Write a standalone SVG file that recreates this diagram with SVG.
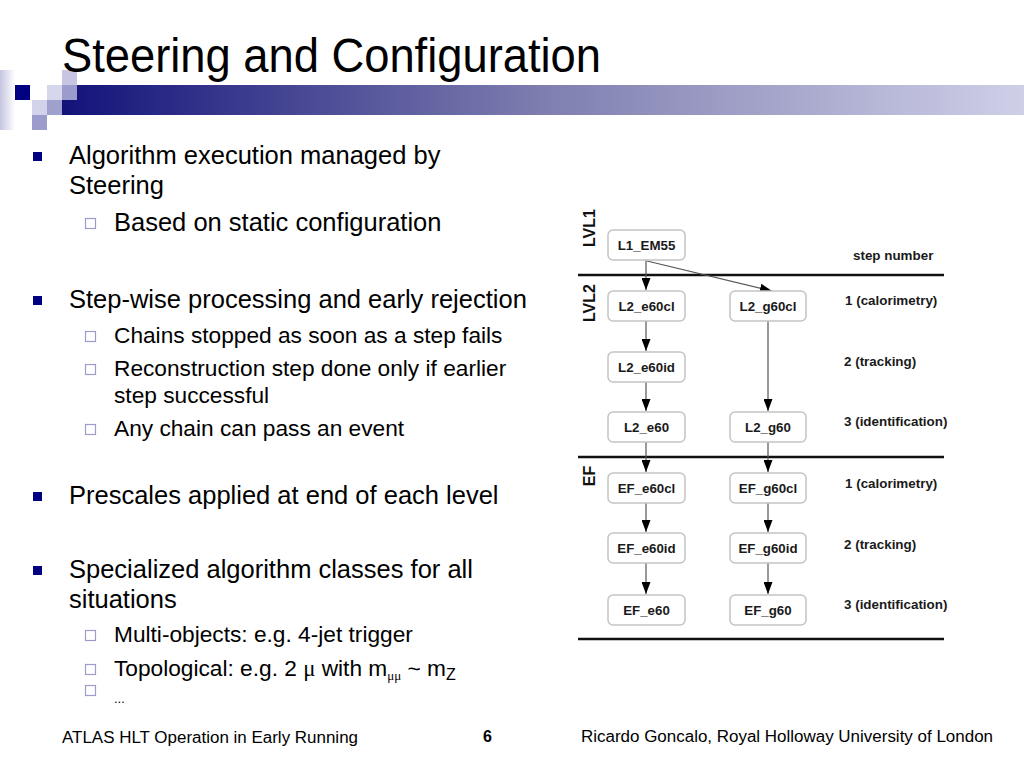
<svg xmlns="http://www.w3.org/2000/svg" width="1024" height="768" viewBox="0 0 1024 768">
<defs>
<linearGradient id="bar" x1="0" y1="0" x2="1" y2="0">
<stop offset="0" stop-color="#12127a"/>
<stop offset="0.5" stop-color="#7e7eb0"/>
<stop offset="1" stop-color="#cfcfe8"/>
</linearGradient>
<linearGradient id="fade" x1="0" y1="0" x2="1" y2="0">
<stop offset="0" stop-color="#c4c4e0"/>
<stop offset="1" stop-color="#ffffff"/>
</linearGradient>
<marker id="ah" markerUnits="userSpaceOnUse" markerWidth="12" markerHeight="9" refX="12" refY="4.5" orient="auto">
<path d="M0,0 L12,4.5 L0,9 z" fill="#000"/>
</marker>
<style>
.t{font-family:"Liberation Sans",Arial,sans-serif;fill:#000}
.l1{font-size:25.5px}
.l2{font-size:22.7px}
.nb{fill:#000080}
.sb{fill:#fff;stroke:#9c9ccc;stroke-width:1.2}
.box{fill:#fff;stroke:#c4c4c4;stroke-width:1.5}
.bt{font-family:"Liberation Sans",Arial,sans-serif;font-size:13.3px;font-weight:bold;fill:#1a1a1a;text-anchor:middle}
.rl{font-family:"Liberation Sans",Arial,sans-serif;font-size:13.4px;font-weight:bold;fill:#1a1a1a}
.lv{font-family:"Liberation Sans",Arial,sans-serif;font-size:16px;font-weight:bold;fill:#111;text-anchor:middle}
.hl{stroke:#111;stroke-width:2.5}
.cn{stroke:#555;stroke-width:1.2;fill:none;marker-end:url(#ah)}
.ft{font-family:"Liberation Sans",Arial,sans-serif;font-size:16px;fill:#000}
</style>
</defs>
<rect width="1024" height="768" fill="#fff"/>
<!-- header decoration -->
<g id="header">
<rect x="0" y="70" width="15" height="60" fill="url(#fade)"/>
<rect x="62" y="85" width="962" height="30" fill="url(#bar)"/>
<rect x="62" y="70" width="15" height="15" fill="#c6c6e2"/>
<rect x="62" y="85" width="15" height="15" fill="#9c9ccc"/>
<rect x="47" y="85" width="15" height="15" fill="#d6d6ec"/>
<rect x="15" y="85" width="15" height="15" fill="#000080"/>
<rect x="32" y="100" width="15" height="15" fill="#d2d2ea"/>
<rect x="47" y="100" width="15" height="15" fill="#a0a0cc"/>
<rect x="32" y="115" width="15" height="15" fill="#9c9ccc"/>
<text class="t" x="62" y="72" font-size="48" textLength="539" lengthAdjust="spacingAndGlyphs">Steering and Configuration</text>
</g>
<!-- bullet text -->
<g id="bullets">
<rect class="nb" x="33" y="152" width="9" height="9"/>
<text class="t l1" x="69" y="164">Algorithm execution managed by</text>
<text class="t l1" x="69" y="194">Steering</text>
<rect class="sb" x="85.5" y="218.5" width="10" height="10"/>
<text class="t l1" x="114" y="231">Based on static configuration</text>
<rect class="nb" x="33" y="296" width="9" height="9"/>
<text class="t l1" x="69" y="308">Step-wise processing and early rejection</text>
<rect class="sb" x="85.5" y="331.5" width="10" height="10"/>
<text class="t l2" x="114" y="343">Chains stopped as soon as a step fails</text>
<rect class="sb" x="85.5" y="364.5" width="10" height="10"/>
<text class="t l2" x="114" y="376">Reconstruction step done only if earlier</text>
<text class="t l2" x="114" y="403">step successful</text>
<rect class="sb" x="85.5" y="424.5" width="10" height="10"/>
<text class="t l2" x="114" y="436">Any chain can pass an event</text>
<rect class="nb" x="33" y="492" width="9" height="9"/>
<text class="t l1" x="69" y="504">Prescales applied at end of each level</text>
<rect class="nb" x="33" y="566" width="9" height="9"/>
<text class="t l1" x="69" y="578">Specialized algorithm classes for all</text>
<text class="t l1" x="69" y="608">situations</text>
<rect class="sb" x="85.5" y="630.5" width="10" height="10"/>
<text class="t l2" x="114" y="642">Multi-objects: e.g. 4-jet trigger</text>
<rect class="sb" x="85.5" y="664.5" width="10" height="10"/>
<text class="t l2" x="114" y="676">Topological: e.g. 2 <tspan font-family="'Liberation Serif',serif">μ</tspan> with m<tspan font-family="'Liberation Serif',serif" font-size="13" dy="4">μμ</tspan><tspan dy="-4"> ~ m</tspan><tspan font-size="16" dy="4">Z</tspan></text>
<rect class="sb" x="85.5" y="685.5" width="10" height="10"/>
<text class="t" x="114" y="703" font-size="13">...</text>
</g>
<!-- diagram dividers and level labels -->
<g id="levels">
<line class="hl" x1="578" y1="275" x2="944" y2="275"/>
<line class="hl" x1="578" y1="457" x2="944" y2="457"/>
<line class="hl" x1="578" y1="639" x2="944" y2="639"/>
<text class="lv" transform="translate(595,228) rotate(-90)">LVL1</text>
<text class="lv" transform="translate(595,303) rotate(-90)">LVL2</text>
<text class="lv" transform="translate(595,476) rotate(-90)">EF</text>
<text class="rl" x="853" y="260" font-size="14.6">step number</text>
<text class="rl" x="845" y="305">1 (calorimetry)</text>
<text class="rl" x="844" y="366">2 (tracking)</text>
<text class="rl" x="844" y="426">3 (identification)</text>
<text class="rl" x="845" y="488">1 (calorimetry)</text>
<text class="rl" x="844" y="549">2 (tracking)</text>
<text class="rl" x="844" y="609">3 (identification)</text>
</g>
<!-- connectors -->
<g id="connectors">
<line class="cn" x1="646" y1="260" x2="646" y2="290"/>
<line class="cn" x1="647" y1="261" x2="772" y2="291"/>
<line class="cn" x1="646" y1="321" x2="646" y2="351"/>
<line class="cn" x1="646" y1="382" x2="646" y2="411"/>
<line class="cn" x1="646" y1="442" x2="646" y2="472"/>
<line class="cn" x1="646" y1="503" x2="646" y2="532"/>
<line class="cn" x1="646" y1="563" x2="646" y2="594"/>
<line class="cn" x1="768" y1="321" x2="768" y2="411"/>
<line class="cn" x1="768" y1="442" x2="768" y2="472"/>
<line class="cn" x1="768" y1="503" x2="768" y2="532"/>
<line class="cn" x1="768" y1="563" x2="768" y2="594"/>
</g>
<!-- nodes -->
<g id="L1_EM55"><rect class="box" x="608" y="230" width="77" height="30" rx="5"/><text class="bt" x="646.5" y="249.5">L1_EM55</text></g>
<g id="L2_e60cl"><rect class="box" x="608" y="291" width="77" height="30" rx="5"/><text class="bt" x="646.5" y="310.5">L2_e60cl</text></g>
<g id="L2_g60cl"><rect class="box" x="730" y="291" width="76" height="30" rx="5"/><text class="bt" x="768" y="310.5">L2_g60cl</text></g>
<g id="L2_e60id"><rect class="box" x="608" y="352" width="77" height="30" rx="5"/><text class="bt" x="646.5" y="371.5">L2_e60id</text></g>
<g id="L2_e60"><rect class="box" x="608" y="412" width="77" height="30" rx="5"/><text class="bt" x="646.5" y="431.5">L2_e60</text></g>
<g id="L2_g60"><rect class="box" x="730" y="412" width="76" height="30" rx="5"/><text class="bt" x="768" y="431.5">L2_g60</text></g>
<g id="EF_e60cl"><rect class="box" x="608" y="473" width="77" height="30" rx="5"/><text class="bt" x="646.5" y="492.5">EF_e60cl</text></g>
<g id="EF_g60cl"><rect class="box" x="730" y="473" width="76" height="30" rx="5"/><text class="bt" x="768" y="492.5">EF_g60cl</text></g>
<g id="EF_e60id"><rect class="box" x="608" y="533" width="77" height="30" rx="5"/><text class="bt" x="646.5" y="552.5">EF_e60id</text></g>
<g id="EF_g60id"><rect class="box" x="730" y="533" width="76" height="30" rx="5"/><text class="bt" x="768" y="552.5">EF_g60id</text></g>
<g id="EF_e60"><rect class="box" x="608" y="595" width="77" height="30" rx="5"/><text class="bt" x="646.5" y="614.5">EF_e60</text></g>
<g id="EF_g60"><rect class="box" x="730" y="595" width="76" height="30" rx="5"/><text class="bt" x="768" y="614.5">EF_g60</text></g>
<!-- footer -->
<g id="footer">
<text class="ft" x="62" y="743" textLength="296" lengthAdjust="spacingAndGlyphs">ATLAS HLT Operation in Early Running</text>
<text class="ft" x="483" y="742" font-weight="bold">6</text>
<text class="ft" x="581" y="742" textLength="412" lengthAdjust="spacingAndGlyphs">Ricardo Goncalo, Royal Holloway University of London</text>
</g>
</svg>
